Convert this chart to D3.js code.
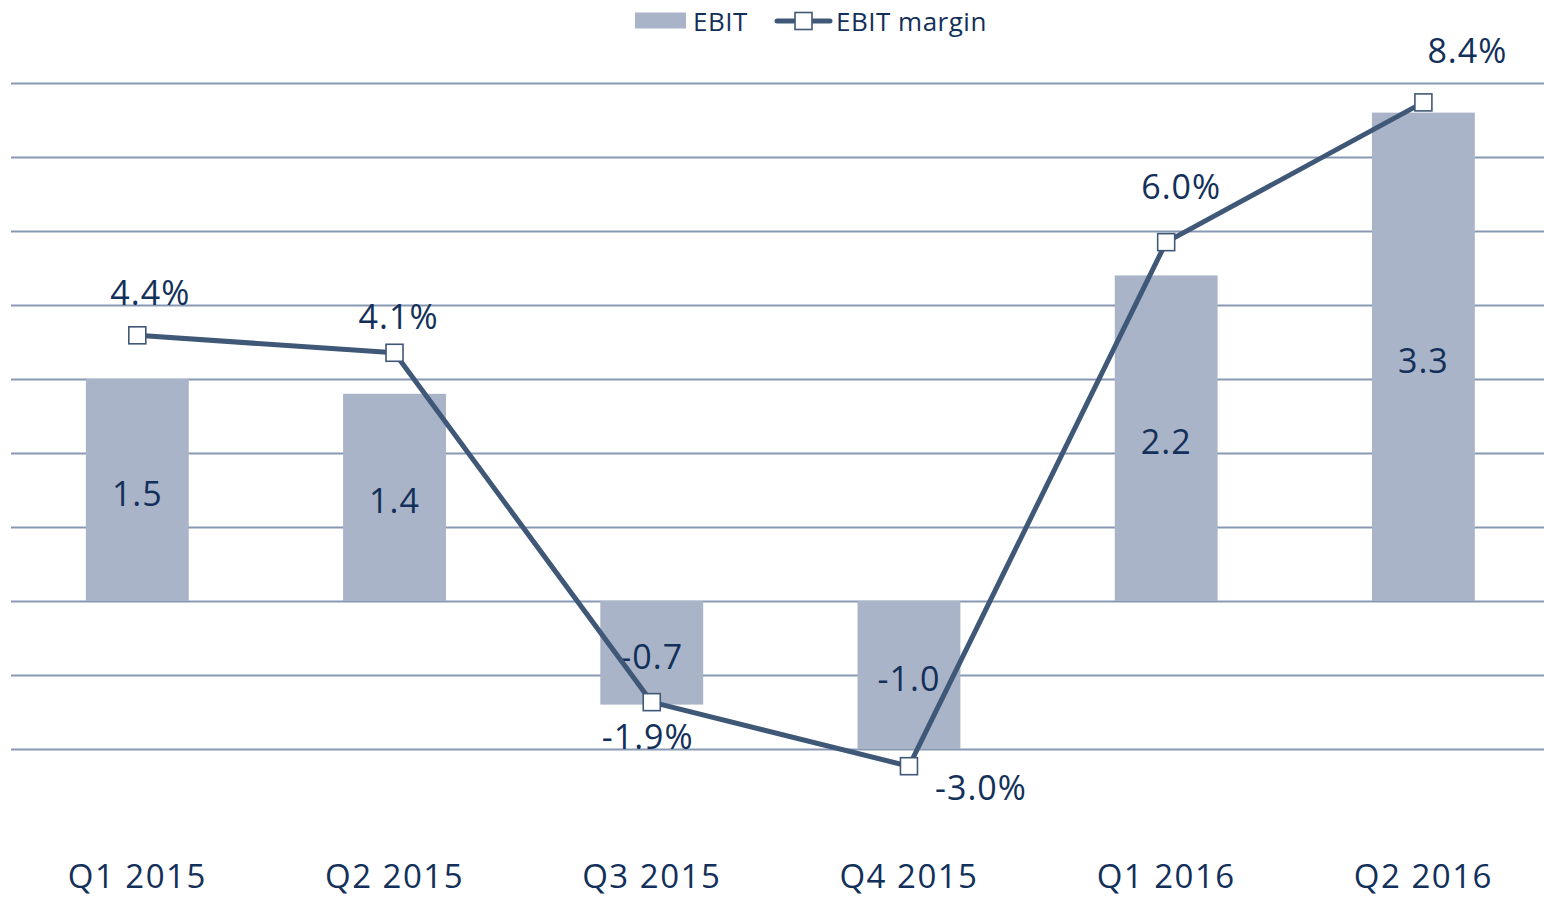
<!DOCTYPE html>
<html><head><meta charset="utf-8">
<script src="https://cdn.jsdelivr.net/npm/d3@7"></script>
<style>
html,body{margin:0;padding:0;background:#fff;overflow:hidden;}
svg{display:block;font-family:"Open Sans","Noto Sans",sans-serif;font-weight:370;}
</style></head>
<body>
<svg id="chart" width="1544" height="898"></svg>
<script>
const categories = ["Q1 2015","Q2 2015","Q3 2015","Q4 2015","Q1 2016","Q2 2016"];
const ebit = [1.5, 1.4, -0.7, -1.0, 2.2, 3.3];
const margin = [4.4, 4.1, -1.9, -3.0, 6.0, 8.4];
const ebitTicks = [-1.0,-0.5,0,0.5,1.0,1.5,2.0,2.5,3.0,3.5];
const seriesNames = ["EBIT","EBIT margin"];
// label placement (layout only)
const marginLabelOffsets = [[13,-43],[4,-37],[-4,34],[72,21],[15,-56],[44,-52]];

const textColor = "#12305a", barColor = "#aab4c8", lineColor = "#405878", gridColor = "#8799b2";
const svg = d3.select("#chart");

const x = d3.scaleBand().domain(categories).range([8.7, 1552]).paddingInner(0.6).paddingOuter(0.3);
const yE = d3.scaleLinear().domain([-1, 3.5]).range([749, 83]);
const yM = d3.scaleLinear().domain([-3, 8.4]).range([766.2, 102.4]);
const cx = c => x(c) + x.bandwidth()/2;

// gridlines
const gAx = svg.append("g").attr("transform","translate(1544,0)").call(d3.axisRight(yE).tickValues(ebitTicks).tickSize(-1533).tickFormat(""));
gAx.select(".domain").remove();
gAx.selectAll(".tick line").attr("stroke", gridColor).attr("stroke-width", 2);

// bars
svg.append("g").selectAll("rect").data(ebit).join("rect")
  .attr("x",(d,i)=>x(categories[i]))
  .attr("width", x.bandwidth())
  .attr("y", d => yE(Math.max(0,d)))
  .attr("height", d => Math.abs(yE(d)-yE(0)))
  .attr("fill", barColor);

// bar labels
svg.append("g").selectAll("text").data(ebit).join("text")
  .attr("x",(d,i)=>cx(categories[i]))
  .attr("y", d => (yE(d)+yE(0))/2 + 3)
  .attr("text-anchor","middle").attr("dominant-baseline","central")
  .attr("font-size", 34).attr("letter-spacing", 1).attr("fill", textColor)
  .text(d => d.toFixed(1));

// line
const line = d3.line().x((d,i)=>cx(categories[i])).y(d=>yM(d));
svg.append("path").datum(margin).attr("d", line)
  .attr("fill","none").attr("stroke", lineColor).attr("stroke-width", 5).attr("stroke-linejoin","round");
svg.append("g").selectAll("rect").data(margin).join("rect")
  .attr("x",(d,i)=>cx(categories[i])-8.5).attr("y", d=>yM(d)-8.5)
  .attr("width",17).attr("height",17)
  .attr("fill","#fff").attr("stroke", lineColor).attr("stroke-width",1.6);

// margin labels
svg.append("g").selectAll("text").data(margin).join("text")
  .attr("x",(d,i)=>cx(categories[i]) + marginLabelOffsets[i][0])
  .attr("y",(d,i)=>yM(d) + marginLabelOffsets[i][1])
  .attr("text-anchor","middle").attr("dominant-baseline","central")
  .attr("font-size", 34).attr("letter-spacing", 1).attr("fill", textColor)
  .text(d => d.toFixed(1) + "%");

// category axis labels
svg.append("g").selectAll("text").data(categories).join("text")
  .attr("x", d => cx(d)).attr("y", 888)
  .attr("text-anchor","middle")
  .attr("font-size", 33).attr("letter-spacing", 1.5).attr("fill", textColor)
  .text(d => d);

// legend
const lg = svg.append("g");
lg.append("rect").attr("x",635).attr("y",12.5).attr("width",51).attr("height",16).attr("fill",barColor);
lg.append("text").attr("x",693).attr("y",21).attr("dominant-baseline","central")
  .attr("font-size",26).attr("letter-spacing",0.5).attr("fill",textColor).text(seriesNames[0]);
lg.append("line").attr("x1",777).attr("x2",830).attr("y1",21).attr("y2",21)
  .attr("stroke",lineColor).attr("stroke-width",5).attr("stroke-linecap","round");
lg.append("rect").attr("x",795).attr("y",12.5).attr("width",17).attr("height",17)
  .attr("fill","#fff").attr("stroke",lineColor).attr("stroke-width",1.6);
lg.append("text").attr("x",836).attr("y",21).attr("dominant-baseline","central")
  .attr("font-size",26).attr("letter-spacing",0.5).attr("fill",textColor).text(seriesNames[1]);
</script>
</body></html>
